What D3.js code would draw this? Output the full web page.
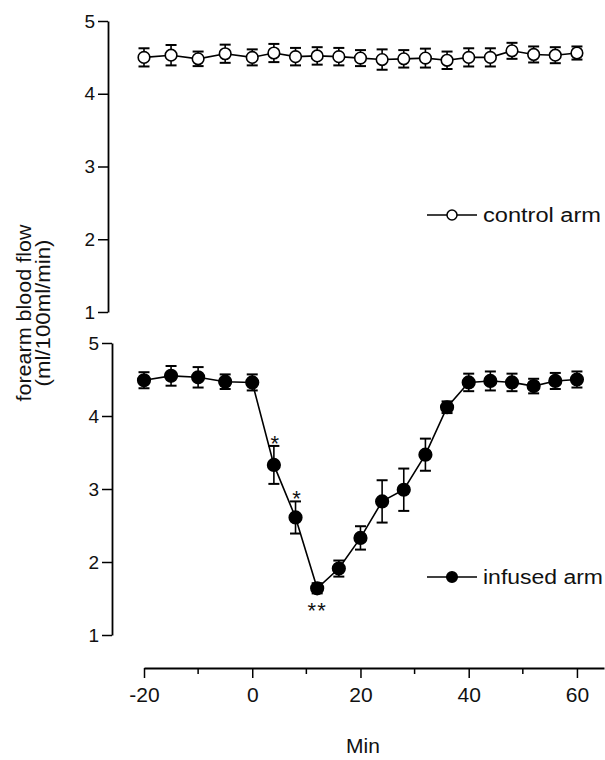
<!DOCTYPE html>
<html>
<head>
<meta charset="utf-8">
<script src="https://cdn.jsdelivr.net/npm/d3@7"></script>
<style>
  body { margin: 0; background: #fff; }
  text { font-family: "Liberation Sans", Arial, sans-serif; fill: #111; }
</style>
</head>
<body>
<div id="canvas"></div>
<script>
const minutes = [-20, -15, -10, -5, 0, 4, 8, 12, 16, 20, 24, 28, 32, 36, 40, 44, 48, 52, 56, 60];
const control = [4.50, 4.53, 4.48, 4.55, 4.50, 4.56, 4.51, 4.52, 4.51, 4.49, 4.47, 4.48, 4.49, 4.46, 4.50, 4.50, 4.59, 4.54, 4.53, 4.56];
const controlErr = [0.125, 0.14, 0.10, 0.125, 0.11, 0.125, 0.12, 0.12, 0.12, 0.11, 0.14, 0.12, 0.13, 0.12, 0.125, 0.125, 0.11, 0.11, 0.11, 0.09];
const infused = [4.49, 4.55, 4.53, 4.47, 4.46, 3.33, 2.61, 1.64, 1.91, 2.33, 2.83, 2.99, 3.47, 4.12, 4.46, 4.48, 4.46, 4.41, 4.48, 4.50];
const infusedErr = [0.11, 0.135, 0.14, 0.10, 0.11, 0.26, 0.22, 0.07, 0.11, 0.16, 0.29, 0.29, 0.22, 0.08, 0.12, 0.13, 0.12, 0.10, 0.11, 0.11];
const signif = [{ t: 4, label: "*" }, { t: 8, label: "*" }, { t: 12, label: "**" }];
const yTicks = [1, 2, 3, 4, 5];
const xMajor = [-20, 0, 20, 40, 60];
const xMinor = [-10, 10, 30, 50];

const width = 605;
const height = 760;

const svg = d3.select("#canvas").append("svg")
  .attr("width", width)
  .attr("height", height);

const x = d3.scaleLinear().domain([-20, 65]).range([144, 604]);
const yTop = d3.scaleLinear().domain([1, 5]).range([312, 21]);
const yBot = d3.scaleLinear().domain([1, 5]).range([635, 343]);
const fmt = d => String(d); // plain hyphen minus, no decimals

// y axes
function yAxis(y, xpos) {
  const g = svg.append("g")
    .attr("transform", `translate(${xpos},0)`)
    .call(d3.axisLeft(y).tickValues(yTicks).tickFormat(fmt).tickSize(10).tickSizeOuter(0).tickPadding(3));
  g.select(".domain").attr("stroke-width", 1.8);
  g.selectAll(".tick line").attr("stroke-width", 1.5);
  g.selectAll(".tick text").style("font-size", "19px").attr("fill", "#111");
}
yAxis(yTop, 108);
yAxis(yBot, 112);

// x axis
const xg = svg.append("g")
  .attr("transform", "translate(0,668)")
  .call(d3.axisBottom(x).tickValues(xMajor).tickFormat(fmt).tickSize(10).tickSizeOuter(0).tickPadding(9));
xg.select(".domain").attr("stroke-width", 1.8);
xg.selectAll(".tick line").attr("stroke-width", 1.5);
xg.selectAll(".tick text").style("font-size", "21px").attr("fill", "#111");
xg.selectAll(".minor").data(xMinor).enter().append("line")
  .attr("x1", d => x(d)).attr("x2", d => x(d))
  .attr("y1", 0).attr("y2", 6)
  .attr("stroke", "#000").attr("stroke-width", 1.5);

svg.append("text")
  .attr("x", 363).attr("y", 753)
  .attr("text-anchor", "middle")
  .style("font-size", "21px")
  .text("Min");

// y title
const yt = svg.append("g").attr("transform", "translate(0,313) rotate(-90)");
yt.append("text").attr("x", 0).attr("y", 31)
  .attr("text-anchor", "middle").style("font-size", "20px")
  .attr("textLength", 177).attr("lengthAdjust", "spacingAndGlyphs")
  .text("forearm blood flow");
yt.append("text").attr("x", 0).attr("y", 50)
  .attr("text-anchor", "middle").style("font-size", "20px")
  .attr("textLength", 147).attr("lengthAdjust", "spacingAndGlyphs")
  .text("(ml/100ml/min)");

function series(vals, errs, y, filled) {
  const data = minutes.map((t, i) => ({ t, v: vals[i], e: errs[i] }));
  const g = svg.append("g");
  g.append("path").datum(data)
    .attr("fill", "none").attr("stroke", "#000").attr("stroke-width", 1.6)
    .attr("d", d3.line().x(d => x(d.t)).y(d => y(d.v)));
  const eb = g.selectAll(".eb").data(data).enter().append("g");
  eb.append("line")
    .attr("x1", d => x(d.t)).attr("x2", d => x(d.t))
    .attr("y1", d => y(d.v + d.e)).attr("y2", d => y(d.v - d.e))
    .attr("stroke", "#000").attr("stroke-width", 1.6);
  [1, -1].forEach(s => {
    eb.append("line")
      .attr("x1", d => x(d.t) - 5.5).attr("x2", d => x(d.t) + 5.5)
      .attr("y1", d => y(d.v + s * d.e)).attr("y2", d => y(d.v + s * d.e))
      .attr("stroke", "#000").attr("stroke-width", 2);
  });
  g.selectAll(".pt").data(data).enter().append("circle")
    .attr("cx", d => x(d.t)).attr("cy", d => y(d.v))
    .attr("r", filled ? 6.3 : 5.8)
    .attr("fill", filled ? "#000" : "#fff")
    .attr("stroke", "#000").attr("stroke-width", 1.6);
  return data;
}
series(control, controlErr, yTop, false);
series(infused, infusedErr, yBot, true);

// significance marks
signif.forEach(s => {
  const i = minutes.indexOf(s.t);
  const up = s.label === "*";
  const cy = up ? yBot(infused[i] + infusedErr[i]) - 7 : yBot(infused[i] - infusedErr[i]) + 13;
  svg.append("text")
    .attr("x", x(s.t) + (up ? 1 : 0)).attr("y", cy + 12)
    .attr("text-anchor", "middle")
    .style("font-size", "22px")
    .attr("letter-spacing", up ? 0 : 1)
    .text(s.label);
});

// legends
function legend(yc, label, filled, len) {
  const g = svg.append("g");
  g.append("line").attr("x1", 427).attr("x2", 477).attr("y1", yc).attr("y2", yc)
    .attr("stroke", "#000").attr("stroke-width", 1.5);
  g.append("circle").attr("cx", 452).attr("cy", yc).attr("r", filled ? 5.3 : 5)
    .attr("fill", filled ? "#000" : "#fff").attr("stroke", "#000").attr("stroke-width", 1.5);
  g.append("text").attr("x", 483).attr("y", yc + 7)
    .style("font-size", "20px")
    .attr("textLength", len).attr("lengthAdjust", "spacingAndGlyphs")
    .text(label);
}
legend(215, "control arm", false, 118);
legend(577, "infused arm", true, 120);
</script>
</body>
</html>
